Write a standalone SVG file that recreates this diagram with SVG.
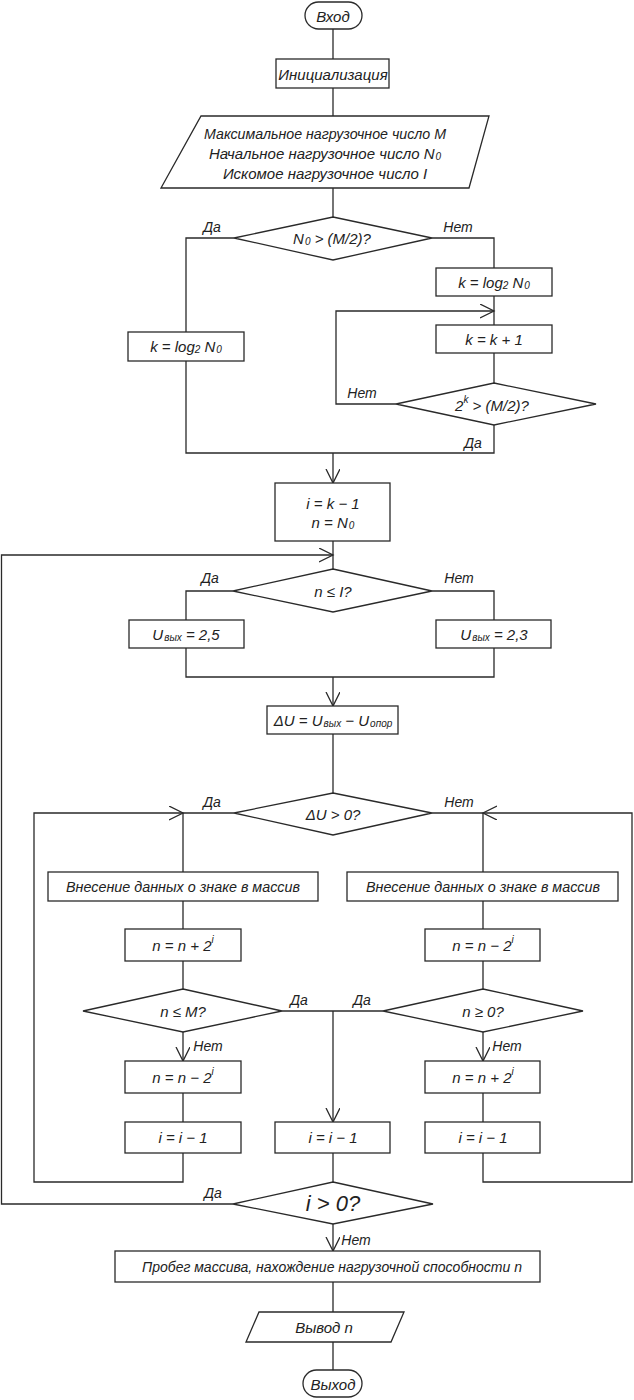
<svg xmlns="http://www.w3.org/2000/svg" width="634" height="1400" viewBox="0 0 634 1400">
<style>
.s{fill:#fff;stroke:#2a2a2a;stroke-width:1.3}
.c{fill:none;stroke:#2a2a2a;stroke-width:1.3}
text{font-family:"Liberation Sans","DejaVu Sans",sans-serif;font-style:italic;font-size:15px;fill:#222;text-anchor:middle;dominant-baseline:central}
.lb{font-size:14px}
.sub{font-size:10px}
.big{font-size:22px}
</style>
<defs>
<marker id="ah" markerUnits="userSpaceOnUse" markerWidth="16" markerHeight="16" refX="14" refY="7" orient="auto" viewBox="0 0 16 16">
<path d="M0,0 L14,7 L0,14" fill="none" stroke="#2a2a2a" stroke-width="1.3"/>
</marker>
</defs>
<rect width="634" height="1400" fill="#fff"/>
<g id="connectors">
<path class="c" d="M333,29 V59"/>
<path class="c" d="M333,88 V116"/>
<path class="c" d="M333,188 V217"/>
<path class="c" d="M234,238 H186 V332 M186,361 V453 H494 V425"/>
<path class="c" d="M432,238 H494 V268"/>
<path class="c" d="M494,296 V325"/>
<path class="c" d="M494,353 V383"/>
<path class="c" d="M396,404 H336 V311 H494" marker-end="url(#ah)"/>
<path class="c" d="M333,453 V483" marker-end="url(#ah)"/>
<path class="c" d="M333,541 V569"/>
<path class="c" d="M233,1204 H1.5 V555 H333" marker-end="url(#ah)"/>
<path class="c" d="M233,591 H186 V620 M186,648 V677 H494 V648 M432,591 H494 V620"/>
<path class="c" d="M333,677 V706" marker-end="url(#ah)"/>
<path class="c" d="M333,734 V793"/>
<path class="c" d="M234,813 H183 V872 M183,901 V929 M183,961 V989"/>
<path class="c" d="M432,813 H483 V872 M483,901 V929 M483,961 V989"/>
<path class="c" d="M183,1032 V1061" marker-end="url(#ah)"/>
<path class="c" d="M483,1032 V1061" marker-end="url(#ah)"/>
<path class="c" d="M183,1093 V1122 M483,1093 V1122"/>
<path class="c" d="M183,1153 V1182 H34 V813 H183" marker-end="url(#ah)"/>
<path class="c" d="M483,1153 V1182 H632 V813 H483" marker-end="url(#ah)"/>
<path class="c" d="M282,1011 H383"/>
<path class="c" d="M333,1011 V1122" marker-end="url(#ah)"/>
<path class="c" d="M333,1153 V1182"/>
<path class="c" d="M333,1224 V1251" marker-end="url(#ah)"/>
<path class="c" d="M333,1282 V1312 M333,1342 V1370"/>
<text class="lb" x="212" y="227">Да</text>
<text class="lb" x="458" y="227">Нет</text>
<text class="lb" x="362" y="393">Нет</text>
<text class="lb" x="473" y="443">Да</text>
<text class="lb" x="210" y="578">Да</text>
<text class="lb" x="459" y="578">Нет</text>
<text class="lb" x="212" y="802">Да</text>
<text class="lb" x="459" y="802">Нет</text>
<text class="lb" x="299" y="1000">Да</text>
<text class="lb" x="362" y="1000">Да</text>
<text class="lb" x="208" y="1046">Нет</text>
<text class="lb" x="507" y="1046">Нет</text>
<text class="lb" x="213" y="1193">Да</text>
<text class="lb" x="356" y="1240">Нет</text>
</g>
<g id="start"><rect class="s" x="305" y="2" width="57" height="27" rx="13.5"/><text x="333" y="16">Вход</text></g>
<g id="init"><rect class="s" x="276" y="59" width="113" height="29"/><text x="333" y="74">Инициализация</text></g>
<g id="input"><polygon class="s" points="201,116 489,116 469,188 161,188"/>
<text x="325" y="133" textLength="242" lengthAdjust="spacingAndGlyphs">Максимальное нагрузочное число M</text>
<text x="325" y="153">Начальное нагрузочное число N<tspan class="sub" dx="1" dy="3">0</tspan></text>
<text x="325" y="173">Искомое нагрузочное число I</text></g>
<g id="d1"><polygon class="s" points="333,217 432,238 333,260 234,238"/><text x="332" y="238">N<tspan class="sub" dx="1" dy="3">0</tspan><tspan dy="-3"> &gt; (M/2)?</tspan></text></g>
<g id="klogL"><rect class="s" x="128" y="332" width="116" height="29"/><text x="186" y="346">k = log<tspan class="sub" dy="3">2</tspan><tspan dy="-3"> N</tspan><tspan class="sub" dx="1" dy="3">0</tspan></text></g>
<g id="klogR"><rect class="s" x="436" y="268" width="116" height="28"/><text x="494" y="282">k = log<tspan class="sub" dy="3">2</tspan><tspan dy="-3"> N</tspan><tspan class="sub" dx="1" dy="3">0</tspan></text></g>
<g id="kinc"><rect class="s" x="436" y="325" width="116" height="28"/><text x="494" y="339">k = k + 1</text></g>
<g id="d2"><polygon class="s" points="494,383 596,404 494,425 396,404"/><text x="492" y="405">2<tspan class="sub" dy="-6">k</tspan><tspan dy="6"> &gt; (M/2)?</tspan></text></g>
<g id="setup"><rect class="s" x="275" y="483" width="115" height="58"/><text x="333" y="503">i = k − 1</text><text x="333" y="522">n = N<tspan class="sub" dx="1" dy="3">0</tspan></text></g>
<g id="d3"><polygon class="s" points="333,569 432,591 333,612 233,591"/><text x="333" y="591">n ≤ I?</text></g>
<g id="u25"><rect class="s" x="129" y="620" width="115" height="28"/><text x="186" y="634">U<tspan class="sub" dx="1" dy="3">вых</tspan><tspan dy="-3"> = 2,5</tspan></text></g>
<g id="u23"><rect class="s" x="436" y="620" width="115" height="28"/><text x="494" y="634">U<tspan class="sub" dx="1" dy="3">вых</tspan><tspan dy="-3"> = 2,3</tspan></text></g>
<g id="du"><rect class="s" x="267" y="706" width="131" height="28"/><text x="333" y="720">ΔU = U<tspan class="sub" dx="1" dy="3">вых</tspan><tspan dy="-3"> − U</tspan><tspan class="sub" dx="1" dy="3">опор</tspan></text></g>
<g id="d4"><polygon class="s" points="333,793 432,813 333,835 234,813"/><text x="333" y="814">ΔU &gt; 0?</text></g>
<g id="storeL"><rect class="s" x="48" y="872" width="270" height="29"/><text x="183" y="886" textLength="234" lengthAdjust="spacingAndGlyphs">Внесение данных о знаке в массив</text></g>
<g id="storeR"><rect class="s" x="347" y="872" width="271" height="29"/><text x="483" y="886" textLength="234" lengthAdjust="spacingAndGlyphs">Внесение данных о знаке в массив</text></g>
<g id="plusL"><rect class="s" x="125" y="929" width="116" height="32"/><text x="183" y="945">n = n + 2<tspan class="sub" dy="-6">i</tspan></text></g>
<g id="minusR"><rect class="s" x="425" y="929" width="115" height="32"/><text x="483" y="945">n = n − 2<tspan class="sub" dy="-6">i</tspan></text></g>
<g id="d5"><polygon class="s" points="183,989 282,1011 183,1032 83,1011"/><text x="183" y="1011">n ≤ M?</text></g>
<g id="d6"><polygon class="s" points="483,989 583,1011 483,1032 383,1011"/><text x="483" y="1011">n ≥ 0?</text></g>
<g id="minusL"><rect class="s" x="125" y="1061" width="116" height="32"/><text x="183" y="1077">n = n − 2<tspan class="sub" dy="-6">i</tspan></text></g>
<g id="plusR"><rect class="s" x="425" y="1061" width="115" height="32"/><text x="483" y="1077">n = n + 2<tspan class="sub" dy="-6">i</tspan></text></g>
<g id="decL"><rect class="s" x="125" y="1122" width="116" height="31"/><text x="183" y="1137">i = i − 1</text></g>
<g id="decC"><rect class="s" x="275" y="1122" width="115" height="31"/><text x="333" y="1137">i = i − 1</text></g>
<g id="decR"><rect class="s" x="425" y="1122" width="115" height="31"/><text x="483" y="1137">i = i − 1</text></g>
<g id="d7"><polygon class="s" points="333,1182 433,1204 333,1224 233,1204"/><text class="big" x="333" y="1203">i &gt; 0?</text></g>
<g id="scan"><rect class="s" x="115" y="1251" width="425" height="31"/><text x="332" y="1266" textLength="380" lengthAdjust="spacingAndGlyphs">Пробег массива, нахождение нагрузочной способности n</text></g>
<g id="output"><polygon class="s" points="259,1312 404,1312 391,1342 246,1342"/><text x="324" y="1327">Вывод n</text></g>
<g id="end"><rect class="s" x="303" y="1370" width="59" height="27" rx="13.5"/><text x="333" y="1384">Выход</text></g>
</svg>
